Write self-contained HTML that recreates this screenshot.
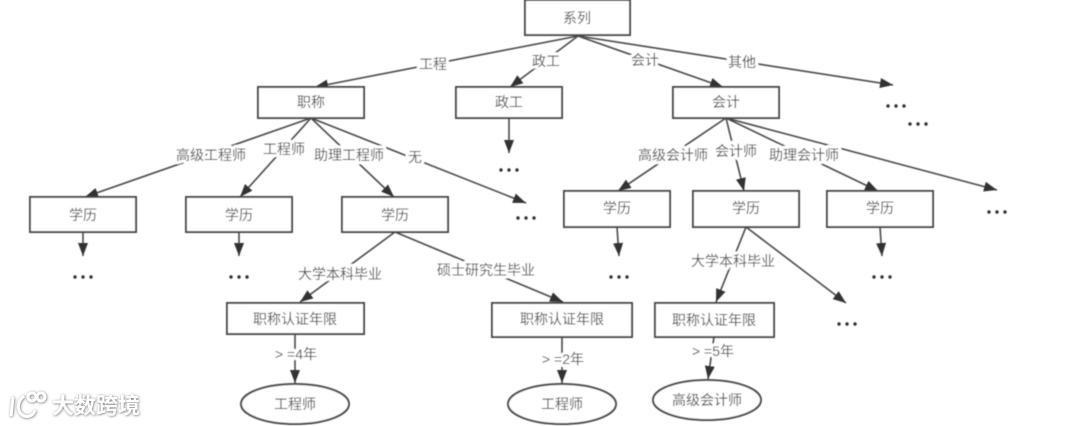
<!DOCTYPE html>
<html lang="zh">
<head>
<meta charset="utf-8">
<style>
html,body{margin:0;padding:0;background:#fff;width:1080px;height:426px;overflow:hidden}
svg{display:block}
text{font-family:"Liberation Sans","Noto Sans CJK SC",sans-serif;font-size:14px;fill:#505050;text-anchor:middle;dominant-baseline:central}
.b{fill:#fff;stroke:#4a4a4a;stroke-width:2}
.l{fill:none;stroke:#484848;stroke-width:1.6}
.t{paint-order:stroke;stroke:#fff;stroke-width:6px;stroke-linejoin:round}
.wm{font-size:22px;fill:#fff;text-anchor:start;font-weight:bold}
</style>
</head>
<body>
<svg width="1080" height="426" viewBox="0 0 1080 426" xmlns="http://www.w3.org/2000/svg">
<defs>
<marker id="a" markerUnits="userSpaceOnUse" markerWidth="14" markerHeight="12" refX="13" refY="5" orient="auto"><path d="M0 0L13 5L0 10Z" fill="#333"/></marker>
<filter id="s" x="-2%" y="-2%" width="104%" height="104%"><feGaussianBlur stdDeviation="0.55"/></filter>
<filter id="w" x="-10%" y="-30%" width="120%" height="160%"><feDropShadow dx="0.5" dy="0.5" stdDeviation="1.3" flood-color="#666"/></filter>
</defs>
<g filter="url(#s)">
<path class="l" marker-end="url(#a)" d="M578 36L315 87"/>
<path class="l" marker-end="url(#a)" d="M578 36L510 87"/>
<path class="l" marker-end="url(#a)" d="M578 36L723 87"/>
<path class="l" marker-end="url(#a)" d="M578 36L893 85"/>
<path class="l" marker-end="url(#a)" d="M311 118L85 197"/>
<path class="l" marker-end="url(#a)" d="M311 118L240 197"/>
<path class="l" marker-end="url(#a)" d="M311 118L394 197"/>
<path class="l" marker-end="url(#a)" d="M311 118L526 203"/>
<path class="l" marker-end="url(#a)" d="M509 118L509 153"/>
<path class="l" marker-end="url(#a)" d="M726 118L618 191"/>
<path class="l" marker-end="url(#a)" d="M726 118L744 191"/>
<path class="l" marker-end="url(#a)" d="M726 118L878 191"/>
<path class="l" marker-end="url(#a)" d="M726 118L997 190"/>
<path class="l" marker-end="url(#a)" d="M83 232L83 256"/>
<path class="l" marker-end="url(#a)" d="M239 232L239 256"/>
<path class="l" marker-end="url(#a)" d="M395 232L300 302"/>
<path class="l" marker-end="url(#a)" d="M395 232L563 302"/>
<path class="l" marker-end="url(#a)" d="M617 227L619 256"/>
<path class="l" marker-end="url(#a)" d="M746 227L716 302"/>
<path class="l" marker-end="url(#a)" d="M746 227L846 303"/>
<path class="l" marker-end="url(#a)" d="M880 227L882 256"/>
<path class="l" marker-end="url(#a)" d="M295 334L295 383"/>
<path class="l" marker-end="url(#a)" d="M562 337L562 383"/>
<path class="l" marker-end="url(#a)" d="M714 337L708 379"/>

<rect class="b" x="525" y="0" width="105" height="35"/>
<rect class="b" x="258" y="87" width="106" height="31"/>
<rect class="b" x="456" y="87" width="106" height="31"/>
<rect class="b" x="673" y="87" width="106" height="31"/>
<rect class="b" x="30" y="197" width="106" height="35"/>
<rect class="b" x="186" y="197" width="106" height="35"/>
<rect class="b" x="342" y="197" width="106" height="35"/>
<rect class="b" x="564" y="191" width="106" height="36"/>
<rect class="b" x="693" y="191" width="106" height="36"/>
<rect class="b" x="827" y="191" width="106" height="36"/>
<rect class="b" x="227" y="303" width="137" height="31"/>
<rect class="b" x="492" y="303" width="140" height="34"/>
<rect class="b" x="655" y="303" width="119" height="34"/>
<ellipse class="b" cx="295" cy="404" rx="54" ry="20"/>
<ellipse class="b" cx="562" cy="404" rx="54" ry="20"/>
<ellipse class="b" cx="707" cy="400" rx="54" ry="20"/>

<text x="577" y="18">系列</text>
<text x="311" y="102">职称</text>
<text x="509" y="102">政工</text>
<text x="726" y="102">会计</text>
<text x="83" y="215">学历</text>
<text x="239" y="215">学历</text>
<text x="395" y="215">学历</text>
<text x="617" y="208">学历</text>
<text x="746" y="208">学历</text>
<text x="880" y="208">学历</text>
<text x="295" y="319">职称认证年限</text>
<text x="562" y="319">职称认证年限</text>
<text x="714" y="320">职称认证年限</text>
<text x="295" y="404">工程师</text>
<text x="562" y="404">工程师</text>
<text x="707" y="400">高级会计师</text>

<text class="t" x="433" y="64">工程</text>
<text class="t" x="546" y="61">政工</text>
<text class="t" x="645" y="60">会计</text>
<text class="t" x="742" y="62">其他</text>
<text class="t" x="211" y="155">高级工程师</text>
<text class="t" x="284" y="149">工程师</text>
<text class="t" x="349" y="155">助理工程师</text>
<text class="t" x="415" y="157">无</text>
<text class="t" x="673" y="155">高级会计师</text>
<text class="t" x="736" y="151">会计师</text>
<text class="t" x="804" y="155">助理会计师</text>
<text class="t" x="340" y="274">大学本科毕业</text>
<text class="t" x="486" y="270">硕士研究生毕业</text>
<text class="t" x="733" y="261">大学本科毕业</text>
<text class="t" x="296" y="354">&gt; =4年</text>
<text class="t" x="563" y="359">&gt; =2年</text>
<text class="t" x="713" y="351">&gt; =5年</text>

<g fill="#333">
<circle cx="501" cy="170" r="1.7"/><circle cx="509" cy="170" r="1.7"/><circle cx="517" cy="170" r="1.7"/>
<circle cx="888" cy="106" r="1.7"/><circle cx="896" cy="106" r="1.7"/><circle cx="904" cy="106" r="1.7"/>
<circle cx="910" cy="124" r="1.7"/><circle cx="918" cy="124" r="1.7"/><circle cx="926" cy="124" r="1.7"/>
<circle cx="518" cy="218" r="1.7"/><circle cx="526" cy="218" r="1.7"/><circle cx="534" cy="218" r="1.7"/>
<circle cx="989" cy="212" r="1.7"/><circle cx="997" cy="212" r="1.7"/><circle cx="1005" cy="212" r="1.7"/>
<circle cx="75" cy="277" r="1.7"/><circle cx="83" cy="277" r="1.7"/><circle cx="91" cy="277" r="1.7"/>
<circle cx="231" cy="277" r="1.7"/><circle cx="239" cy="277" r="1.7"/><circle cx="247" cy="277" r="1.7"/>
<circle cx="611" cy="277" r="1.7"/><circle cx="619" cy="277" r="1.7"/><circle cx="627" cy="277" r="1.7"/>
<circle cx="874" cy="277" r="1.7"/><circle cx="882" cy="277" r="1.7"/><circle cx="890" cy="277" r="1.7"/>
<circle cx="839" cy="324" r="1.7"/><circle cx="847" cy="324" r="1.7"/><circle cx="855" cy="324" r="1.7"/>
</g>
</g>

<g filter="url(#w)">
<g fill="none" stroke="#fff" stroke-width="3">
<path d="M13 397L11 416"/>
<path d="M24 396C17 401 16 412 24 416C30 418 34 414 35 410"/>
<circle cx="32" cy="397" r="4"/>
<circle cx="41" cy="397" r="4"/>
</g>
<text class="wm" x="52" y="406">大数跨境</text>
</g>
</svg>
</body>
</html>
